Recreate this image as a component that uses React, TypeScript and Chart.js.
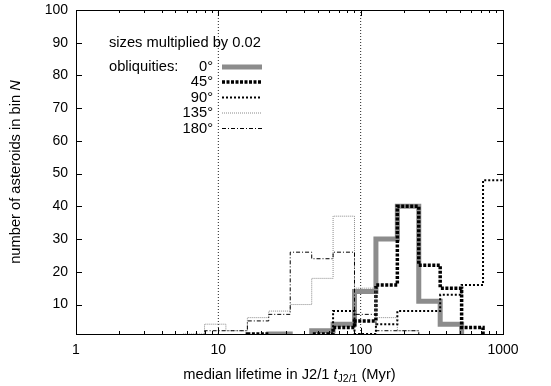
import React, { useEffect, useRef } from "react";
import { Chart, registerables } from "chart.js";

Chart.register(...registerables);

// Histogram bin edges (Myr), bins grow by a factor of sqrt(2)
const binEdges = [5.66, 8, 11.3, 16, 22.6, 32, 45.3, 64, 90.5, 128, 181, 256, 362, 512, 724, 1024];

// Number of asteroids per bin for each obliquity
const counts0 = [0, 0, 0, 0, 1, 0, 2, 4, 14, 30, 40, 11, 4, 0, 0];
const counts45 = [0, 0, 0, 1, 0, 0, 1, 3, 5, 16, 40, 22, 15, 3, 0];
const counts90 = [0, 0, 0, 0, 0, 0, 0, 8, 1, 4, 8, 8, 13, 16, 48];
const counts135 = [1, 4, 2, 6, 8, 10, 18, 37, 15, 6, 2, 0, 0, 0, 0];
const counts180 = [0, 2, 2, 5, 7, 26, 24, 26, 7, 2, 2, 0, 0, 0, 0];

const obliquityLabels = ["0°", "45°", "90°", "135°", "180°"];
const seriesCounts = [counts0, counts45, counts90, counts135, counts180];

const xTickValues = [1, 10, 100, 1000];
const xTickLabels = ["1", "10", "100", "1000"];
const yTickValues = [10, 20, 30, 40, 50, 60, 70, 80, 90, 100];
const guideLines = [10, 100];

const X_MIN = 1;
const X_MAX = 1000;
const Y_MIN = 1;
const Y_MAX = 100;

const FONT = "'Liberation Sans', Arial, Helvetica, sans-serif";
const TEXT_PX = 14.7;

const seriesStyles = [
  { color: "#8c8c8c", width: 5, dash: [] as number[] },
  { color: "#000000", width: 3.5, dash: [3, 1.5] },
  { color: "#000000", width: 2, dash: [2, 2] },
  { color: "#8a8a8a", width: 1, dash: [1, 1] },
  { color: "#000000", width: 1, dash: [4, 2, 1, 2] },
];

function stepPoints(counts: number[]) {
  const pts = counts.map((c, i) => ({ x: binEdges[i], y: c }));
  pts.push({ x: binEdges[binEdges.length - 1], y: 0 });
  return pts;
}

const decorPlugin = {
  id: "decor",
  afterDraw(chart: any) {
    const { ctx, chartArea: a, scales } = chart;
    const xs = scales.x;
    const ys = scales.y;
    ctx.save();

    // frame
    ctx.strokeStyle = "#000";
    ctx.lineWidth = 1;
    ctx.setLineDash([]);
    ctx.strokeRect(Math.round(a.left) + 0.5, Math.round(a.top) + 0.5, Math.round(a.right - a.left), Math.round(a.bottom - a.top));

    // inward ticks, mirrored on the opposite side
    const major = 6;
    const minor = 3;
    ctx.beginPath();
    for (const v of yTickValues) {
      const y = Math.round(ys.getPixelForValue(v)) + 0.5;
      ctx.moveTo(a.left, y);
      ctx.lineTo(a.left + major, y);
      ctx.moveTo(a.right, y);
      ctx.lineTo(a.right - major, y);
    }
    for (let dec = 1; dec < X_MAX; dec *= 10) {
      for (let m = 1; m <= 10; m++) {
        const v = dec * m;
        if (v < X_MIN || v > X_MAX) continue;
        const len = m === 1 || m === 10 ? major : minor;
        const x = Math.round(xs.getPixelForValue(v)) + 0.5;
        ctx.moveTo(x, a.bottom);
        ctx.lineTo(x, a.bottom - len);
        ctx.moveTo(x, a.top);
        ctx.lineTo(x, a.top + len);
      }
    }
    ctx.stroke();

    // tick labels
    ctx.fillStyle = "#000";
    ctx.font = `14px ${FONT}`;
    ctx.textBaseline = "middle";
    ctx.textAlign = "right";
    for (const v of yTickValues) {
      ctx.fillText(String(v), a.left - 8, ys.getPixelForValue(v));
    }
    ctx.textAlign = "center";
    xTickValues.forEach((v, i) => {
      ctx.fillText(xTickLabels[i], xs.getPixelForValue(v), a.bottom + 16);
    });

    // x-axis title: median lifetime in J2/1 t_{J2/1} (Myr)
    const parts = [
      { text: "median lifetime in J2/1 ", font: `${TEXT_PX}px ${FONT}`, dy: 0 },
      { text: "t", font: `italic ${TEXT_PX}px ${FONT}`, dy: 0 },
      { text: "J2/1", font: `10.5px ${FONT}`, dy: 4 },
      { text: " (Myr)", font: `${TEXT_PX}px ${FONT}`, dy: 0 },
    ];
    let total = 0;
    for (const p of parts) {
      ctx.font = p.font;
      total += ctx.measureText(p.text).width;
    }
    let cx = (a.left + a.right) / 2 - total / 2;
    ctx.textAlign = "left";
    for (const p of parts) {
      ctx.font = p.font;
      ctx.fillText(p.text, cx, 375 + p.dy);
      cx += ctx.measureText(p.text).width;
    }

    // y-axis title: number of asteroids in bin N
    const yparts = [
      { text: "number of asteroids in bin ", font: `${TEXT_PX}px ${FONT}` },
      { text: "N", font: `italic ${TEXT_PX}px ${FONT}` },
    ];
    let ytotal = 0;
    for (const p of yparts) {
      ctx.font = p.font;
      ytotal += ctx.measureText(p.text).width;
    }
    ctx.save();
    ctx.translate(16, (a.top + a.bottom) / 2);
    ctx.rotate(-Math.PI / 2);
    let yx = -ytotal / 2;
    for (const p of yparts) {
      ctx.font = p.font;
      ctx.fillText(p.text, yx, 0);
      yx += ctx.measureText(p.text).width;
    }
    ctx.restore();

    // key
    ctx.font = `${TEXT_PX}px ${FONT}`;
    ctx.textAlign = "left";
    ctx.fillText("sizes multiplied by 0.02", 109, 43);
    ctx.fillText("obliquities:", 109, 67);
    const rowY = [67, 82, 97.5, 113, 128.5];
    obliquityLabels.forEach((lab, i) => {
      const st = seriesStyles[i];
      ctx.textAlign = "right";
      ctx.fillStyle = "#000";
      ctx.fillText(lab, 213, rowY[i]);
      ctx.beginPath();
      ctx.strokeStyle = st.color;
      ctx.lineWidth = st.width;
      ctx.setLineDash(st.dash);
      ctx.lineCap = "butt";
      ctx.moveTo(222, rowY[i]);
      ctx.lineTo(262, rowY[i]);
      ctx.stroke();
    });

    ctx.restore();
  },
};

export default function App() {
  const canvasRef = useRef<HTMLCanvasElement | null>(null);

  useEffect(() => {
    const canvas = canvasRef.current;
    if (!canvas) return;

    // 'before' steps: each count is held horizontally across its bin, then the line steps at the next edge
    const histDatasets = seriesCounts.map((counts, i) => ({
      label: obliquityLabels[i],
      data: stepPoints(counts),
      borderColor: seriesStyles[i].color,
      borderWidth: seriesStyles[i].width,
      borderDash: seriesStyles[i].dash,
      borderCapStyle: "butt",
      borderJoinStyle: "miter",
      stepped: "before",
      pointRadius: 0,
      fill: false,
      clip: 0,
      order: 5 - i,
    }));

    const guideDatasets = guideLines.map((g) => ({
      label: `guide ${g}`,
      data: [
        { x: g, y: Y_MIN },
        { x: g, y: Y_MAX },
      ],
      borderColor: "#222",
      borderWidth: 1,
      borderDash: [1, 2],
      pointRadius: 0,
      fill: false,
      clip: 0,
      order: 10,
    }));

    const chart = new Chart(canvas, {
      type: "line",
      data: { datasets: [...histDatasets, ...guideDatasets] as any },
      options: {
        animation: false,
        responsive: false,
        devicePixelRatio: 1,
        layout: { padding: { left: 76, right: 48, top: 10, bottom: 52 } },
        plugins: {
          legend: { display: false },
          tooltip: { enabled: false },
        },
        scales: {
          x: { type: "logarithmic", min: X_MIN, max: X_MAX, display: false },
          y: { type: "linear", min: Y_MIN, max: Y_MAX, display: false },
        },
      },
      plugins: [decorPlugin],
    });

    return () => chart.destroy();
  }, []);

  return (
    <div style={{ position: "fixed", left: 0, top: 0, width: 551, height: 386, background: "#fff" }}>
      <canvas ref={canvasRef} width={551} height={386} />
    </div>
  );
}
